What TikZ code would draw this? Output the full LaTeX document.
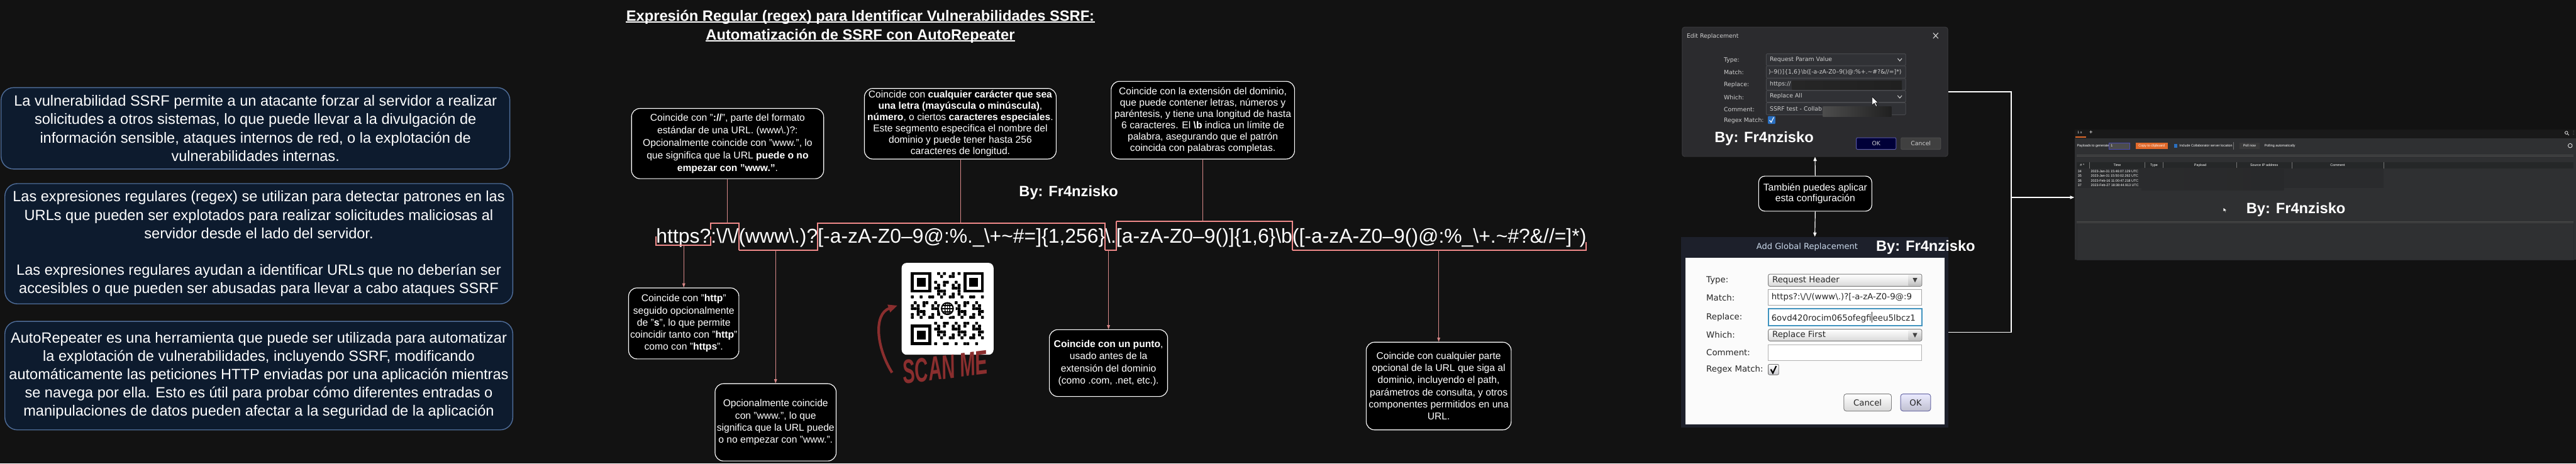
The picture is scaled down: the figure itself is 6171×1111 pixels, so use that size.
\documentclass[tikz,border=0pt]{standalone}
\usepackage{fontspec}
\setmainfont{Liberation Sans}
\newfontfamily\dejavu{DejaVu Sans}
\usetikzlibrary{arrows.meta,calc}
\definecolor{bg}{HTML}{121212}
\definecolor{navy}{HTML}{0D1B2E}
\definecolor{navyedge}{HTML}{4F6D99}
\definecolor{salmon}{HTML}{F08A8A}
\definecolor{scanred}{HTML}{8A2E2E}
\definecolor{dlg}{HTML}{2B2B2E}
\definecolor{dlgedge}{HTML}{3A3A3D}
\definecolor{fieldbg}{HTML}{303135}
\definecolor{fieldedge}{HTML}{48494D}
\definecolor{uitext}{HTML}{CFCFCF}
\definecolor{agframe}{HTML}{1D202B}
\definecolor{agtitle}{HTML}{C9D8EA}
\definecolor{collabbg}{HTML}{2F3032}
\definecolor{burporange}{HTML}{E0692A}
\definecolor{checkblue}{HTML}{2A6FC0}
\begin{document}
\begin{tikzpicture}[x=0.01cm,y=-0.01cm,
  leftbox/.style={draw=navyedge, line width=0.6pt, fill=navy, rounded corners=0.3cm, text=white, align=center, inner sep=0, font=\fontsize{10.1}{12.5}\selectfont},
  smallbox/.style={draw=white, line width=0.5pt, fill=black, rounded corners=0.2cm, text=white, align=center, inner sep=0, font=\fontsize{6.7}{8.25}\selectfont},
  titletext/.style={text=white, font=\fontsize{10.15}{12}\selectfont\bfseries, inner sep=0, anchor=base},
  rx/.style={text=white, inner sep=0, outer sep=0, anchor=base west, font=\fontsize{13.66}{16}\selectfont},
  brk/.style={draw=salmon, line width=0.8pt},
  conn/.style={draw=salmon!80!gray, line width=0.4pt},
  conna/.style={conn, -{Triangle[length=0.1cm,width=0.07cm]}},
  wline/.style={draw=white, line width=0.5pt},
  warrow/.style={wline, -{Triangle[length=0.1cm,width=0.08cm]}},
  byline/.style={text=white, font=\fontsize{10.15}{12}\selectfont\bfseries, inner sep=0},
  ui/.style={text=uitext, inner sep=0, font=\dejavu\fontsize{4}{5}\selectfont},
  agui/.style={text=black!85, inner sep=0, font=\dejavu\fontsize{5.7}{7}\selectfont},
  tiny/.style={text=white!70, inner sep=0, font=\fontsize{2.3}{3}\selectfont}
]
\fill[bg] (0,0) rectangle (6171,1111);
\useasboundingbox (0,0) rectangle (6171,1111);

% ---------- left info boxes ----------
\node[leftbox, minimum width=12.18cm, minimum height=1.95cm] (info1) at (612,307.5) {La vulnerabilidad SSRF permite a un atacante forzar al servidor a realizar\\ solicitudes a otros sistemas, lo que puede llevar a la divulgación de\\ información sensible, ataques internos de red, o la explotación de\\ vulnerabilidades internas.};
\node[leftbox, minimum width=12.16cm, minimum height=2.88cm] (info2) at (620,584) {Las expresiones regulares (regex) se utilizan para detectar patrones en las\\ URLs que pueden ser explotados para realizar solicitudes maliciosas al\\ servidor desde el lado del servidor.\\[12.4pt] Las expresiones regulares ayudan a identificar URLs que no deberían ser\\ accesibles o que pueden ser abusadas para llevar a cabo ataques SSRF};
\node[leftbox, minimum width=12.16cm, minimum height=2.60cm] (info3) at (620,900) {AutoRepeater es una herramienta que puede ser utilizada para automatizar\\ la explotación de vulnerabilidades, incluyendo SSRF, modificando\\ automáticamente las peticiones HTTP enviadas por una aplicación mientras\\ se navega por ella. Esto es útil para probar cómo diferentes entradas o\\ manipulaciones de datos pueden afectar a la seguridad de la aplicación};

% ---------- title ----------
\node[titletext] (t1) at (2061,50) {Expresión Regular (regex) para Identificar Vulnerabilidades SSRF:};
\node[titletext] (t2) at (2061,95) {Automatización de SSRF con AutoRepeater};
\draw[white, line width=0.6pt] ($(t1.base west)+(0,3)$) -- ($(t1.base east)+(0,3)$);
\draw[white, line width=0.6pt] ($(t2.base west)+(0,3)$) -- ($(t2.base east)+(0,3)$);

% ---------- regex ----------
\node[rx] (s1) at (1572,582) {https?};
\node[rx] (s2) at (s1.base east) {:\textbackslash/\textbackslash/};
\node[rx] (s3) at (s2.base east) {(www\textbackslash.)?};
\node[rx] (s4) at (s3.base east) {[-a-zA-Z0–9@:\%.\_\textbackslash+\textasciitilde\#=]\{1,256\}};
\node[rx] (s5) at (s4.base east) {\textbackslash.};
\node[rx] (s6) at (s5.base east) {[a-zA-Z0–9()]\{1,6\}\textbackslash b};
\node[rx] (s7) at (s6.base east) {([-a-zA-Z0–9()@:\%\_\textbackslash+.\textasciitilde\#?\&//=]*)};

\draw[brk] ($(s1.base west)+(0,-15)$) -- ($(s1.base west)+(0,5)$) -- ($(s1.base east)+(0,5)$) -- ($(s1.base east)+(0,-15)$);
\draw[brk] ($(s2.base west)+(0,-32)$) -- ($(s2.base west)+(0,-47)$) -- ($(s2.base east)+(0,-47)$) -- ($(s2.base east)+(0,18)$);
\draw[brk] ($(s3.base west)+(0,18)$) -- ($(s3.base east)+(0,18)$) -- ($(s3.base east)+(0,0)$);
\draw[brk] ($(s4.base west)+(0,0)$) -- ($(s4.base west)+(0,-47)$) -- ($(s4.base east)+(0,-47)$) -- ($(s4.base east)+(0,18)$);
\draw[brk] ($(s5.base west)+(0,18)$) -- ($(s5.base east)+(0,18)$) -- ($(s5.base east)+(0,-52)$);
\draw[brk] ($(s6.base west)+(0,-52)$) -- ($(s6.base east)+(0,-52)$) -- ($(s6.base east)+(0,18)$);
\draw[brk] ($(s7.base west)+(0,18)$) -- ($(s7.base east)+(0,18)$) -- ($(s7.base east)+(0,-2)$);

\coordinate (c1) at ($(s1.base)+(0,5)$);
\coordinate (c2) at ($(s2.base)+(0,-47)$);
\coordinate (c3) at ($(s3.base)+(0,18)$);
\coordinate (c4) at ($(s4.base)+(0,-47)$);
\coordinate (c5) at ($(s5.base)+(0,18)$);
\coordinate (c6) at ($(s6.base)+(0,-52)$);
\coordinate (c7) at ($(s7.base)+(0,18)$);

% ---------- explanation boxes ----------
\node[smallbox, minimum width=4.60cm, minimum height=1.68cm, font=\fontsize{6.7}{8.5}\selectfont] (boxA) at (1743,344) {Coincide con "\textbf{://}", parte del formato\\ estándar de una URL. (www\textbackslash.)?:\\ Opcionalmente coincide con "www.", lo\\ que significa que la URL \textbf{puede o no}\\ \textbf{empezar con "www."}.};
\node[smallbox, minimum width=4.59cm, minimum height=1.69cm, font=\fontsize{6.7}{7.7}\selectfont] (boxB) at (2300.5,296.5) {Coincide con \textbf{cualquier carácter que sea}\\ \textbf{una letra (mayúscula o minúscula)},\\ \textbf{número}, o ciertos \textbf{caracteres especiales}.\\ Este segmento especifica el nombre del\\ dominio y puede tener hasta 256\\ caracteres de longitud.};
\node[smallbox, minimum width=4.39cm, minimum height=1.86cm, font=\fontsize{6.7}{7.7}\selectfont] (boxC) at (2881.5,288) {Coincide con la extensión del dominio,\\ que puede contener letras, números y\\ paréntesis, y tiene una longitud de hasta\\ 6 caracteres. El \textbf{\textbackslash b} indica un límite de\\ palabra, asegurando que el patrón\\ coincida con palabras completas.};
\node[smallbox, minimum width=2.64cm, minimum height=1.70cm] (boxD) at (1638,775) {Coincide con "\textbf{http}"\\ seguido opcionalmente\\ de "\textbf{s}", lo que permite\\ coincidir tanto con "\textbf{http}"\\ como con "\textbf{https}".};
\node[smallbox, minimum width=2.90cm, minimum height=1.85cm] (boxE) at (1858,1012) {Opcionalmente coincide\\ con "www.", lo que\\ significa que la URL puede\\ o no empezar con "www.".};
\node[smallbox, minimum width=2.83cm, minimum height=1.60cm] (boxF) at (2655.5,870) {\textbf{Coincide con un punto},\\ usado antes de la\\ extensión del dominio\\ (como .com, .net, etc.).};
\node[smallbox, minimum width=3.47cm, minimum height=2.10cm] (boxG) at (3446.5,925) {Coincide con cualquier parte\\ opcional de la URL que siga al\\ dominio, incluyendo el path,\\ parámetros de consulta, y otros\\ componentes permitidos en una\\ URL.};

\draw[conn] (boxA.south) -- (boxA.south |- c2);
\draw[conn] (boxB.south) -- (boxB.south |- c4);
\draw[conn] (boxC.south) -- (boxC.south |- c6);
\draw[conna] (c1 -| boxD.north) -- (boxD.north);
\draw[conna] (c3 -| boxE.north) -- (boxE.north);
\draw[conna] (c5 -| boxF.north) -- (boxF.north);
\draw[conna] (c7 -| boxG.north) -- (boxG.north);

% ---------- QR code ----------
\node[fill=white, rounded corners=0.12cm, minimum width=2.2cm, minimum height=2.2cm, inner sep=0] (qr) at (2270,740) {};
\begin{scope}[shift={(2182,652)}]
  \foreach \i in {0,...,24}{
    \foreach \j in {0,...,24}{
      \pgfmathtruncatemacro{\sk}{(\i<8)*(\j<8)+(\i>16)*(\j<8)+(\i<8)*(\j>16)+(\i>9)*(\i<15)*(\j>9)*(\j<15)}
      \pgfmathtruncatemacro{\v}{mod(\i*\i*7+\j*\j*3+\i*\j*5+\i*11+\j*13,7)}
      \ifnum\sk=0 \ifnum\v<3 \fill[black, rounded corners=0.01cm] (7*\i,7*\j) rectangle ++(7,7); \fi\fi
    }}
  \foreach \fx/\fy in {0/0,18/0,0/18}{
    \fill[black] (7*\fx,7*\fy) rectangle ++(49,49);
    \fill[white] (7*\fx+7,7*\fy+7) rectangle ++(35,35);
    \fill[black] (7*\fx+14,7*\fy+14) rectangle ++(21,21);
  }
\end{scope}
\fill[white] (2269.5,739.5) circle[radius=0.2cm];
\draw[black, line width=0.9pt] (2269.5,739.5) circle[radius=0.14cm];
\draw[black, line width=0.6pt] (2269.5,739.5) ellipse[x radius=0.06cm, y radius=0.14cm];
\draw[black, line width=0.6pt] (2255.5,739.5) -- (2283.5,739.5) (2257,732) -- (2282,732) (2257,747) -- (2282,747) (2269.5,725.5) -- (2269.5,753.5);
\draw[scanred, line width=1.8pt, -{Triangle[length=0.22cm,width=0.18cm]}] (2137,893) .. controls (2098,830) and (2093,752) .. (2150,732);
\node[text=scanred, font=\fontsize{23}{23}\selectfont\bfseries\itshape, rotate=7, inner sep=0] (scan) at (2264,880) {\scalebox{0.55}[1]{SCAN ME}};

\node[byline] (by1) at (2560,462) {By: Fr4nzisko};

% ---------- Edit Replacement dialog ----------
\node[draw=dlgedge, fill=dlg, rounded corners=0.06cm, minimum width=6.36cm, minimum height=3.10cm, inner sep=0] (edit) at (4348,220) {};
\node[ui, anchor=west] (edtitle) at (4040,87) {Edit Replacement};
\draw[uitext, line width=0.5pt] (4631,79) -- (4643,92) (4643,79) -- (4631,92);
\foreach \lab/\yy in {Type:/144, Match:/173, Replace:/203, Which:/233, Comment:/262, Regex Match:/289}
  \node[ui, anchor=west] (edl\yy) at (4129,\yy) {\lab};
\foreach \ya/\yb in {129/157,158/187,188/216,217/245,246/275}
  \draw[draw=fieldedge, fill=fieldbg, rounded corners=0.02cm] (4231,\ya) rectangle (4565,\yb);
\node[ui, anchor=west] (edtype) at (4239,143) {Request Param Value};
\begin{scope}
  \clip (4233,159) rectangle (4563,186);
  \node[ui, anchor=east] (edmatch) at (4556,172.5) {)–9()]\{1,6\}\textbackslash b([-a-zA-Z0–9()@:\%+.\textasciitilde\#?\&//=]*)};
\end{scope}
\node[ui, anchor=west] (edrep) at (4239,202) {https://};
\shade[left color=black!70!gray, middle color=gray!60!black, right color=black!75!gray] (4293,194) rectangle (4556,215);
\node[ui, anchor=west] (edwhich) at (4239,231) {Replace All};
\node[ui, anchor=west] (edcom) at (4239,260) {SSRF test - Collab};
\shade[left color=gray!60!black, middle color=gray!50!black, right color=black!75!gray] (4367,255) rectangle (4531,279);
\draw[uitext!70, line width=0.4pt] (4546,140) -- (4551,146) -- (4556,140);
\draw[uitext!70, line width=0.4pt] (4546,229) -- (4551,235) -- (4556,229);
\fill[checkblue, rounded corners=0.02cm] (4235,278) rectangle (4253,297);
\draw[white, line width=0.5pt] (4239,288) -- (4243,293) -- (4249,281);
\fill[white, draw=black, line width=0.2pt] (4485,232) -- (4485,252) -- (4490,247) -- (4494,255) -- (4497,254) -- (4493,246) -- (4499,246) -- cycle;
\node[draw=blue!30!gray, fill=black!78!blue, rounded corners=0.03cm, minimum width=0.95cm, minimum height=0.28cm, ui] (edok) at (4494.5,344) {OK};
\node[draw=gray!60!black, fill=black!75, rounded corners=0.03cm, minimum width=0.95cm, minimum height=0.28cm, ui] (edcancel) at (4601.5,344) {Cancel};
\node[byline] (by2) at (4226,332) {By: Fr4nzisko};

% ---------- Tambien box ----------
\node[smallbox, minimum width=2.71cm, minimum height=0.84cm, rounded corners=0.15cm, font=\fontsize{6.7}{7.6}\selectfont] (tamb) at (4348.5,464) {También puedes aplicar\\ esta configuración};

% ---------- Add Global Replacement dialog ----------
\node[fill=agframe, minimum width=6.39cm, minimum height=4.57cm, inner sep=0] (addg) at (4347.5,796.5) {};
\fill[white!97!gray] (4037,618) rectangle (4658,1017);
\node[text=agtitle, inner sep=0, font=\dejavu\fontsize{5.6}{7}\selectfont] (agtitle) at (4329,592) {Add Global Replacement};
\foreach \lab/\yy in {Type:/672, Match:/713, Replace:/760, Which:/803, Comment:/845, Regex Match:/885}
  \node[agui, anchor=west] (agl\yy) at (4087,\yy) {\lab};
\shade[top color=white, bottom color=black!15, draw=black!50, rounded corners=0.04cm] (4236,657) rectangle (4604,686);
\shade[top color=black!5, bottom color=black!25] (4572,659) rectangle (4602,684);
\fill[black!75] (4582,666) -- (4593,666) -- (4587.5,677) -- cycle;
\node[agui, anchor=west] (agtype) at (4245,672) {Request Header};
\draw[draw=black!35, fill=white] (4236,694) rectangle (4604,732);
\begin{scope}
  \clip (4238,696) rectangle (4602,730);
  \node[agui, anchor=west] (agmatch) at (4243,713) {https?:\textbackslash/\textbackslash/(www\textbackslash.)?[-a-zA-Z0-9@:9};
\end{scope}
\draw[draw=blue!35!cyan!50!gray, line width=0.8pt, fill=white] (4236,740) rectangle (4604,781);
\begin{scope}
  \clip (4238,742) rectangle (4602,779);
  \node[agui, anchor=west] (agrep) at (4243,760) {6ovd420rocim065ofegfi\kern0.3pt\rule[-0.35ex]{0.3pt}{2.3ex}\kern0.3pt eeu5lbcz1};
\end{scope}
\shade[top color=white, bottom color=black!15, draw=black!50, rounded corners=0.04cm] (4236,789) rectangle (4604,817);
\shade[top color=black!5, bottom color=black!25] (4572,791) rectangle (4602,815);
\fill[black!75] (4582,798) -- (4593,798) -- (4587.5,809) -- cycle;
\node[agui, anchor=west] (agwhich) at (4245,803) {Replace First};
\draw[draw=black!30, fill=white] (4236,826) rectangle (4604,864);
\shade[top color=white, bottom color=blue!10!black!20, draw=black!55, rounded corners=0.03cm] (4236,873) rectangle (4261,898);
\draw[black, line width=0.9pt] (4242,885) -- (4247,894) -- (4255,877);
\node[draw=black!50, top color=white, bottom color=black!15, rounded corners=0.06cm, minimum width=1.14cm, minimum height=0.41cm, agui] (agcancel) at (4474,964.5) {Cancel};
\node[draw=blue!40!black!60, top color=blue!8!white, bottom color=blue!25!black!25, rounded corners=0.06cm, minimum width=0.72cm, minimum height=0.41cm, agui] (agok) at (4589,964.5) {OK};
\node[byline] (by3) at (4613,592) {By: Fr4nzisko};

% ---------- Collaborator panel ----------
\node[fill=collabbg, minimum width=12.01cm, minimum height=3.12cm, inner sep=0] (collab) at (5570.5,466) {};
\fill[black!80!gray] (4970,310) rectangle (6171,331);
\fill[burporange] (4971,327) rectangle (4998,330);
\node[tiny, anchor=west] (ctab) at (4976,318) {1 x};
\node[text=white!70, inner sep=0, font=\fontsize{4}{4}\selectfont] (cplus) at (5009,318) {+};
\draw[white!70, line width=0.3pt] (6148,318) circle[radius=0.035cm] (6151,321) -- (6154,324);
\fill[white!70] (6165,314) circle[radius=0.005cm] (6165,318) circle[radius=0.005cm] (6165,322) circle[radius=0.005cm];
\node[tiny, anchor=west] (cpay) at (4975,349) {Payloads to generate:};
\draw[draw=blue!40!gray, fill=black!70] (5052,342) rectangle (5102,357);
\node[tiny, anchor=west] (cone) at (5056,349) {1};
\node[fill=burporange, minimum width=0.77cm, minimum height=0.15cm, inner sep=0, text=white, font=\fontsize{2.3}{3}\selectfont] (ccopy) at (5154.5,349.5) {Copy to clipboard};
\fill[checkblue] (5208,345) rectangle (5216,354);
\node[tiny, anchor=west] (cinc) at (5220,349) {Include Collaborator server location};
\draw[black!55, line width=0.3pt] (5351,340) -- (5351,359);
\node[fill=black!55!gray, minimum width=0.48cm, minimum height=0.15cm, inner sep=0, text=white!75, font=\fontsize{2.3}{3}\selectfont] (cpoll) at (5389,349.5) {Poll now};
\node[tiny, anchor=west] (cauto) at (5424,349) {Polling automatically};
\draw[white!70, line width=0.3pt] (6157,349) circle[radius=0.05cm];
\draw[black!40!gray, line width=0.6pt] (4975,371) -- (6165,371);
\draw[black!70, line width=0.3pt] (4975,374) -- (6165,374);
\fill[black!20!collabbg] (4975,388) rectangle (6165,403);
\foreach \cx in {5006,5138,5181,5358,5490,5710}
  \draw[black!55, line width=0.3pt] (\cx,388) -- (\cx,403);
\node[tiny] (hnum) at (4988,396) {\# \textasciicircum};
\node[tiny] (htime) at (5072,396) {Time};
\node[tiny] (htype) at (5160,396) {Type};
\node[tiny] (hpay) at (5271,396) {Payload};
\node[tiny] (hsrc) at (5424,396) {Source IP address};
\node[tiny] (hcom) at (5600,396) {Comment};
\fill[black!10!collabbg] (4975,404) rectangle (5710,450);
\shade[left color=black!10!collabbg, middle color=gray!45!black, right color=black!15!collabbg] (5130,403) rectangle (5471,455);
\foreach \n/\t/\yy in {34/2023-Jan-31 15:46:07.129 UTC/411, 35/2023-Jan-31 15:50:02.262 UTC/422, 36/2023-Feb-16 11:00:47.218 UTC/433, 37/2023-Feb-27 18:38:44.913 UTC/444}{
  \node[tiny, anchor=west] (rn\n) at (4977,\yy) {\n};
  \node[tiny, anchor=west] (rt\n) at (5008,\yy) {\t};
}
\fill[white, draw=black, line width=0.1pt] (5326,497) -- (5326,508) -- (5329,505) -- (5331,509) -- (5332.5,508.5) -- (5330.5,504.5) -- (5334,504.5) -- cycle;
\node[byline] (by4) at (5500,502) {By: Fr4nzisko};
\draw[black!40!gray, line width=0.6pt] (4975,531) -- (6165,531);
\draw[black!70, line width=0.3pt] (4975,534) -- (6165,534);
\draw[black!10!collabbg, line width=0.3pt] (4975,536) rectangle (6165,622);

% ---------- right-side connectors ----------
\coordinate (jn) at (4818,473);
\draw[wline] (edit.east) -| (jn);
\draw[wline] (addg.east) -| (jn);
\draw[warrow] (jn) -- (collab.west |- jn);
\draw[warrow] (tamb.north) -- (edit.south);
\draw[warrow] (tamb.south) -- (addg.north);
\end{tikzpicture}
\end{document}
